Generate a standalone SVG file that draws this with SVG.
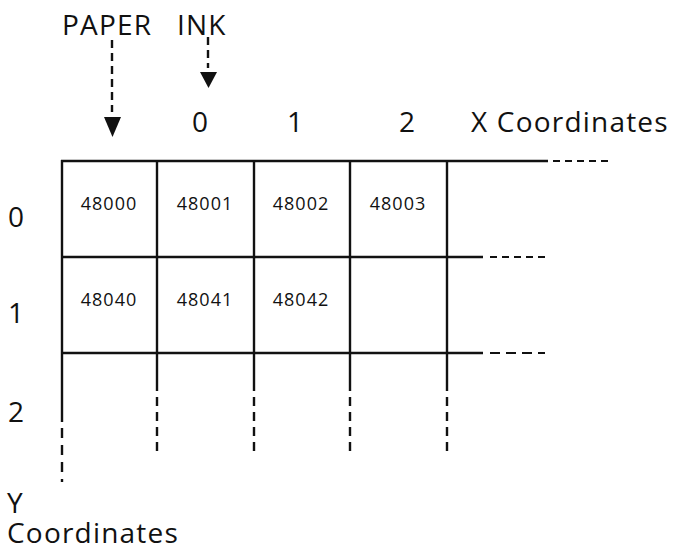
<svg xmlns="http://www.w3.org/2000/svg" xmlns:xlink="http://www.w3.org/1999/xlink" width="682" height="551" viewBox="0 0 682 551">
<style>
  text { font-family: "Open Sans", "Noto Sans", "DejaVu Sans", sans-serif; fill: #111111; font-weight: 500; }
  .lbl { font-size: 28px; letter-spacing: 1.2px; }
  .num { font-size: 18px; letter-spacing: 1px; text-anchor: middle; }
  .dig { font-size: 28px; text-anchor: middle; }
  .ln { stroke: #111111; stroke-width: 2.4; fill: none; }
  .dv { stroke: #111111; stroke-width: 2.4; fill: none; stroke-dasharray: 9 6; }
  .dh { stroke: #111111; stroke-width: 2.2; fill: none; stroke-dasharray: 7 5; }
  .da { stroke: #111111; stroke-width: 2.4; fill: none; stroke-dasharray: 8 5; }
</style>
<defs>
  <path id="ah" d="M-8.5,-20 L8.5,-20 L0,0 Z" fill="#111111"/>
  <path id="ah2" d="M-8.5,-16 L8.5,-16 L0,0 Z" fill="#111111"/>
</defs>
<rect width="682" height="551" fill="#ffffff"/>

<g id="labels">
  <text id="paper" class="lbl" x="62" y="35">PAPER</text>
  <text id="ink" class="lbl" x="177" y="35">INK</text>
  <text class="dig" x="200" y="132">0</text>
  <text class="dig" x="295" y="132">1</text>
  <text class="dig" x="407" y="132">2</text>
  <text class="lbl" x="471" y="132">X Coordinates</text>
  <text class="dig" x="16" y="227">0</text>
  <text class="dig" x="16" y="323">1</text>
  <text class="dig" x="16" y="422">2</text>
  <text class="lbl"><tspan x="7" y="513">Y</tspan><tspan x="7" y="543">Coordinates</tspan></text>
</g>

<g id="connectors">
  <line class="da" x1="112" y1="40" x2="112" y2="112"/>
  <use xlink:href="#ah" x="112.5" y="137"/>
  <line class="da" x1="208" y1="37" x2="208" y2="68"/>
  <use xlink:href="#ah2" x="208.5" y="88"/>
</g>

<g id="grid">
  <line class="ln" x1="61" y1="161" x2="548" y2="161"/>
  <line class="dh" x1="553" y1="161" x2="608" y2="161"/>
  <line class="ln" x1="61" y1="257" x2="483" y2="257"/>
  <line class="dh" x1="490" y1="257" x2="545" y2="257"/>
  <line class="ln" x1="61" y1="353" x2="483" y2="353"/>
  <line class="dh" x1="490" y1="353" x2="545" y2="353" style="stroke-dasharray:10 6"/>

  <line class="ln" x1="62" y1="160" x2="62" y2="422"/>
  <line class="dv" x1="62" y1="428" x2="62" y2="482" style="stroke-dasharray:10 7"/>
  <line class="ln" x1="157" y1="160" x2="157" y2="391"/>
  <line class="dv" x1="157" y1="397" x2="157" y2="451"/>
  <line class="ln" x1="254" y1="160" x2="254" y2="391"/>
  <line class="dv" x1="254" y1="397" x2="254" y2="451"/>
  <line class="ln" x1="350" y1="160" x2="350" y2="391"/>
  <line class="dv" x1="350" y1="397" x2="350" y2="451"/>
  <line class="ln" x1="447" y1="160" x2="447" y2="391"/>
  <line class="dv" x1="447" y1="397" x2="447" y2="451"/>
</g>

<g id="cell-48000"><text class="num" x="109" y="210">48000</text></g>
<g id="cell-48001"><text class="num" x="205" y="210">48001</text></g>
<g id="cell-48002"><text class="num" x="301" y="210">48002</text></g>
<g id="cell-48003"><text class="num" x="398" y="210">48003</text></g>
<g id="cell-48040"><text class="num" x="109" y="306">48040</text></g>
<g id="cell-48041"><text class="num" x="205" y="306">48041</text></g>
<g id="cell-48042"><text class="num" x="301" y="306">48042</text></g>
</svg>
